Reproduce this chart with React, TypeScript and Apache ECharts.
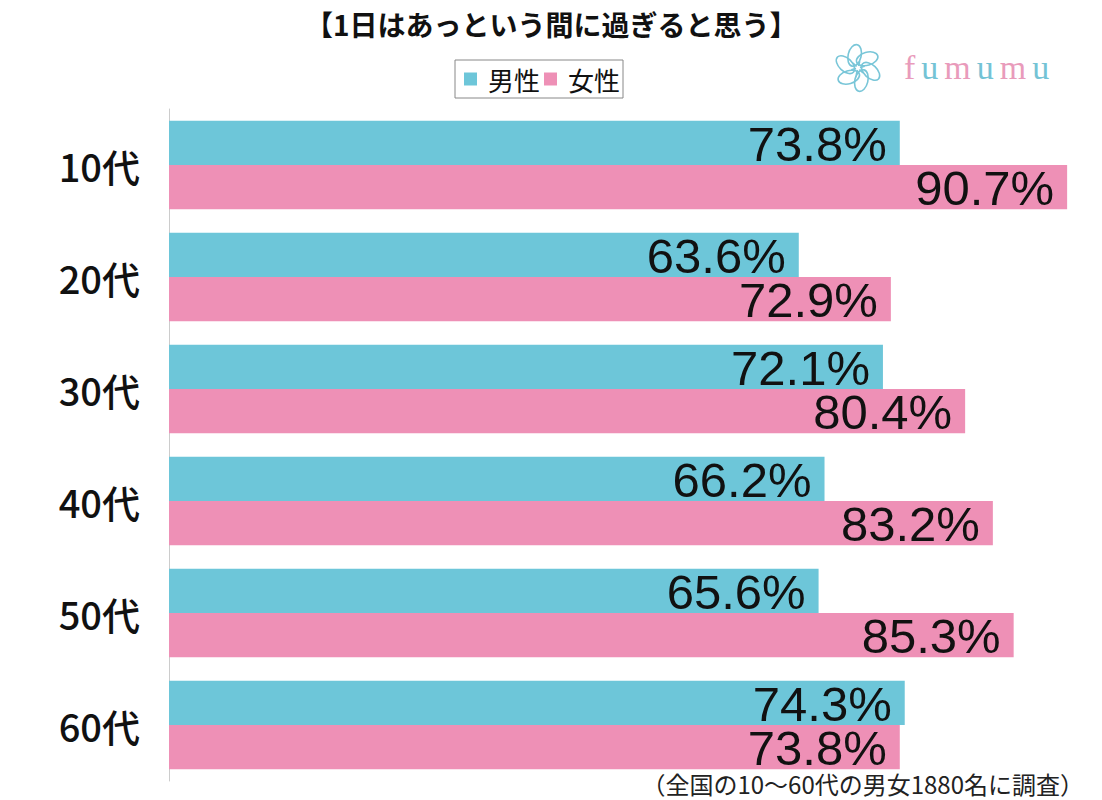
import React, { useEffect, useRef } from "react";
import * as echarts from "echarts";

const categories = ["10代", "20代", "30代", "40代", "50代", "60代"];
const maleValues = [73.8, 63.6, 72.1, 66.2, 65.6, 74.3];
const femaleValues = [90.7, 72.9, 80.4, 83.2, 85.3, 73.8];
const seriesNames = ["男性", "女性"];
const titleText = "【1日はあっという間に過ぎると思う】";
const footnote = "（全国の10〜60代の男女1880名に調査）";
const logoLetters = ["f", "u", "m", "u", "m", "u"];

const CYAN = "#6DC6D9";
const PINK = "#EE90B6";
const LOGO_PINK = "#E99BBB";
const LOGO_CYAN = "#74C3D5";
const JP = "'Noto Sans CJK JP', 'Noto Sans', sans-serif";
const NUM = "'Liberation Sans', Arial, sans-serif";

export default function App() {
  const ref = useRef<HTMLDivElement>(null);
  useEffect(() => {
    document.body.style.margin = "0";
    const chart = echarts.init(ref.current!, null, { renderer: "svg" });
    const label = {
      show: true,
      position: "insideRight",
      offset: [-8, 1],
      color: "#111",
      fontSize: 49,
      lineHeight: 40,
      fontFamily: NUM,
      formatter: (p: any) => p.value.toFixed(1) + "%",
    };
    const cx = 858;
    const cy = 68;
    const petals: any[] = [];
    for (let i = 0; i < 6; i++) {
      const deg = i * 60 + 15;
      const r = (deg * Math.PI) / 180;
      petals.push({
        type: "ellipse",
        x: cx + Math.cos(r) * 13,
        y: cy + Math.sin(r) * 13,
        rotation: -r - 0.5,
        shape: { cx: 0, cy: 0, rx: 11, ry: 6.5 },
        style: { fill: "none", stroke: "#79C6D8", lineWidth: 1.6 },
      });
      const r2 = ((i * 60 + 45) * Math.PI) / 180;
      petals.push({
        type: "line",
        shape: {
          x1: cx + Math.cos(r2) * 2,
          y1: cy + Math.sin(r2) * 2,
          x2: cx + Math.cos(r2) * 7,
          y2: cy + Math.sin(r2) * 7,
        },
        style: { stroke: "#79C6D8", lineWidth: 1.5 },
      });
    }
    const rich: any = {};
    logoLetters.forEach((ch, i) => {
      rich["l" + i] = {
        fill: i % 2 === 0 ? LOGO_PINK : LOGO_CYAN,
        fontSize: 34,
        fontFamily: "'Liberation Serif', serif",
        padding: [0, 3],
      };
    });
    const logoText = logoLetters.map((ch, i) => `{l${i}|${ch}}`).join("");

    chart.setOption({
      animation: false,
      backgroundColor: "#fff",
      title: {
        text: titleText,
        left: 300,
        top: 5,
        textStyle: { fontSize: 28, fontWeight: "bold", color: "#111", fontFamily: JP },
      },
      legend: {
        data: seriesNames,
        top: 60,
        left: 455,
        itemWidth: 13,
        itemHeight: 13,
        itemGap: 4,
        borderColor: "#888",
        borderWidth: 1,
        padding: [6, 3, 6, 9],
        icon: "rect",
        textStyle: { fontSize: 26, color: "#111", fontFamily: JP, padding: [0, 0, 0, 6] },
      },
      graphic: [
        ...petals,
        {
          type: "text",
          left: 904,
          top: 50,
          style: { text: logoText, rich },
        },
        {
          type: "text",
          right: 18,
          top: 771,
          style: { text: footnote, fontSize: 24, lineHeight: 24, fill: "#222", fontFamily: JP },
        },
      ],
      grid: { left: 169, top: 109, width: 911, height: 672, containLabel: false },
      xAxis: {
        type: "value",
        min: 0,
        max: 92,
        show: false,
      },
      yAxis: {
        type: "category",
        data: categories,
        inverse: true,
        axisLine: { show: true, lineStyle: { color: "#ccc", width: 1 } },
        axisTick: { show: false },
        axisLabel: { fontSize: 38, fontWeight: 500, color: "#111", fontFamily: JP, margin: 29 },
      },
      series: [
        {
          name: seriesNames[0],
          type: "bar",
          data: maleValues,
          itemStyle: { color: CYAN },
          barGap: "0%",
          barCategoryGap: "21%",
          label,
        },
        {
          name: seriesNames[1],
          type: "bar",
          data: femaleValues,
          itemStyle: { color: PINK },
          barGap: "0%",
          barCategoryGap: "21%",
          label,
        },
      ],
    });
    return () => chart.dispose();
  }, []);
  return <div ref={ref} style={{ width: 1102, height: 800 }} />;
}
